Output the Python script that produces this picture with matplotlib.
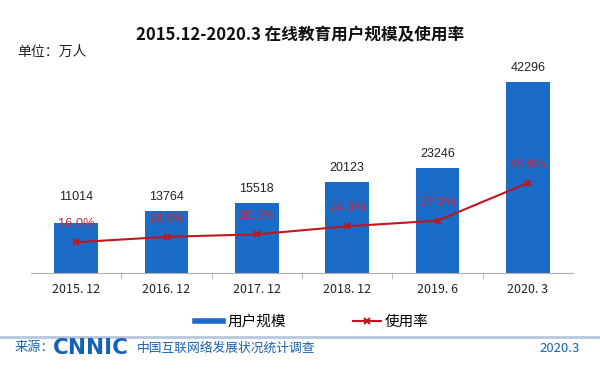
import matplotlib
matplotlib.use("Agg")
import matplotlib.pyplot as plt
from matplotlib.lines import Line2D

plt.rcParams['font.family'] = ['Noto Sans CJK SC', 'DejaVu Sans']

categories = ["2015. 12", "2016. 12", "2017. 12", "2018. 12", "2019. 6", "2020. 3"]
users = [11014, 13764, 15518, 20123, 23246, 42296]
rates = [16.0, 18.8, 20.1, 24.3, 27.2, 46.8]

BAR_C = "#1b6cc8"
LINE_C = "#c0161c"
TXT_C = "#cc2838"
FOOT_C = "#1a62b0"

W, H = 600, 369
fig = plt.figure(figsize=(6, 3.69), dpi=100)
ax = fig.add_axes([31 / W, 96 / H, 542 / W, 225.8 / H])
ax2 = ax.twinx()

x = list(range(len(categories)))
ax.bar(x, users, width=0.48, color=BAR_C, zorder=2)
ax.set_xlim(-0.5, len(categories) - 0.5)
ax.set_ylim(0, 50000)
ax2.set_ylim(0, 117.4)

ax2.plot(x, rates, color=LINE_C, lw=1.5, marker='x', markersize=5,
         markeredgewidth=1.5, zorder=3)

for i, v in enumerate(users):
    off = 26 if i == 0 else 14
    ax.annotate(str(v), (i, v), xytext=(0, off * 0.72), textcoords='offset points',
                ha='center', va='center', fontsize=9, color='#222222',
                family='Liberation Sans')
for i, r in enumerate(rates):
    ax2.annotate(f"{r:.1f}%", (i, r), xytext=(0, 18 * 0.72), textcoords='offset points',
                 ha='center', va='center', fontsize=9.3, color=TXT_C,
                 family='Liberation Sans')

for a in (ax, ax2):
    for s in ('top', 'right', 'left'):
        a.spines[s].set_visible(False)
    a.set_yticks([])
ax2.spines['bottom'].set_visible(False)
ax.spines['bottom'].set_color('#b0b0b0')

ax.set_xticks(x)
ax.set_xticklabels(categories, fontsize=9, color='#222222')
ax.tick_params(axis='x', which='major', length=0, pad=7)
ax.set_xticks([i + 0.5 for i in x[:-1]], minor=True)
ax.tick_params(axis='x', which='minor', length=4, color='#b0b0b0', direction='out')

fig.text(0.5, 1 - 35 / H, "2015.12-2020.3 在线教育用户规模及使用率", ha='center', va='center',
         fontsize=12, fontweight='bold', color='#111111')
fig.text(17 / W, 1 - 52 / H, "单位：万人", ha='left', va='center', fontsize=10, color='#222222')

handles = [Line2D([], [], color=BAR_C, lw=4),
           Line2D([], [], color=LINE_C, lw=1.5, marker='x', markersize=5, markeredgewidth=1.5)]
fig.legend(handles, ["用户规模", "使用率"], loc='center', bbox_to_anchor=(312 / W, 1 - 322 / H),
           ncol=2, frameon=False, fontsize=10.5, handlelength=1.9, columnspacing=4.6,
           handletextpad=0.3)

fig.add_artist(Line2D([0, 1], [1 - 337 / H, 1 - 337 / H], transform=fig.transFigure,
                      color='#b8c8dc', lw=2))
fig.text(15 / W, 1 - 348 / H, "来源：", ha='left', va='center', fontsize=9.5, color=FOOT_C)
fig.text(53 / W, 1 - 348 / H, "CNNIC", ha='left', va='center', fontsize=15.5,
         fontweight='bold', family='DejaVu Sans', color='#1560b8')
fig.text(137 / W, 1 - 348 / H, "中国互联网络发展状况统计调查", ha='left', va='center',
         fontsize=9.2, color=FOOT_C)
fig.text(580 / W, 1 - 348 / H, "2020.3", ha='right', va='center', fontsize=9.5, color=FOOT_C)

fig.savefig("out.png", dpi=100)
